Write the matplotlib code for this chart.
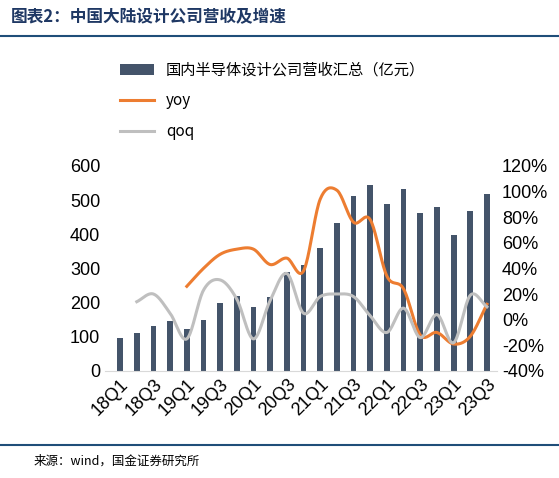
import numpy as np
import matplotlib
matplotlib.use("Agg")
import matplotlib.pyplot as plt

plt.rcParams['font.family'] = ['Noto Sans CJK SC', 'DejaVu Sans']

quarters = [f"{y}Q{q}" for y in range(18, 24) for q in range(1, 5)][:23]
revenue = [95, 110, 130, 145, 122, 148, 198, 220, 188, 215, 290, 310, 360, 432, 512, 543, 488, 532, 462, 480, 398, 468, 518]
yoy = [None]*4 + [26, 40, 51, 55, 55, 43, 48, 38, 94, 101, 76, 78, 34, 24, -12, -10, -19, -13, 12]
qoq = [None] + [14, 20, 5, -15, 23, 31, 16, -15, 15, 36, 5, 18, 20, 18, 3, -10, 9, -14, 4, -18, 19, 10]

def smooth(xs, ys, n=20):
    xs = np.asarray(xs, float); ys = np.asarray(ys, float)
    px = np.concatenate([[2*xs[0]-xs[1]], xs, [2*xs[-1]-xs[-2]]])
    py = np.concatenate([[2*ys[0]-ys[1]], ys, [2*ys[-1]-ys[-2]]])
    ox, oy = [], []
    for i in range(1, len(px)-2):
        t = np.linspace(0, 1, n, endpoint=False)
        for arr, out in ((px, ox), (py, oy)):
            p0, p1, p2, p3 = arr[i-1], arr[i], arr[i+1], arr[i+2]
            out.extend(0.5*((2*p1) + (-p0+p2)*t + (2*p0-5*p1+4*p2-p3)*t**2 + (-p0+3*p1-3*p2+p3)*t**3))
    ox.append(xs[-1]); oy.append(ys[-1])
    return np.array(ox), np.array(oy)

num_font = ['Liberation Sans', 'DejaVu Sans']

fig = plt.figure(figsize=(5.59, 4.78), dpi=100)
ax = fig.add_axes([0.188, 0.224, 0.701, 0.429])
x = np.arange(len(quarters))
bars = ax.bar(x, revenue, width=0.35, color='#44546A')
ax.set_ylim(0, 600)
ax.set_yticks(range(0, 601, 100))
ax.set_yticklabels([str(v) for v in range(0, 601, 100)], family=num_font, fontsize=13)
ax.set_xlim(-0.9, len(quarters)-0.4)
ax.set_xticks(x[::2])
ax.set_xticklabels(quarters[::2], rotation=45, ha='right', rotation_mode='anchor', fontsize=13, family=num_font)
ax.tick_params(axis='y', length=0)
ax.tick_params(axis='x', length=0)
for s in ['top', 'right', 'left']:
    ax.spines[s].set_visible(False)
ax.spines['bottom'].set_color('#D9D9D9')

ax2 = ax.twinx()
xi = [i for i, v in enumerate(yoy) if v is not None]
sx, sy = smooth(xi, [yoy[i] for i in xi])
l1, = ax2.plot(sx, sy, color='#ED7D31', lw=2.2)
xi = [i for i, v in enumerate(qoq) if v is not None]
sx, sy = smooth(xi, [qoq[i] for i in xi])
l2, = ax2.plot(sx, sy, color='#BFBFBF', lw=2.2)
ax2.set_ylim(-40, 120)
ax2.set_yticks(range(-40, 121, 20))
ax2.set_yticklabels([f"{v}%" for v in range(-40, 121, 20)], family=num_font, fontsize=13)
ax2.tick_params(axis='y', length=0)
for s in ['top', 'right', 'left', 'bottom']:
    ax2.spines[s].set_visible(False)

fig.legend([bars, l1, l2], ['国内半导体设计公司营收汇总（亿元）', 'yoy', 'qoq'],
           loc='upper left', bbox_to_anchor=(0.19, 0.9), frameon=False, fontsize=11,
           labelspacing=0.9, handlelength=2.2)

fig.text(0.02, 0.965, '图表2：中国大陆设计公司营收及增速', fontsize=12, fontweight='bold',
         style='italic', color='#1F3864', va='center')
fig.add_artist(plt.Line2D([0.0, 1.0], [0.925, 0.925], color='#1F4E79', lw=1.5))
fig.add_artist(plt.Line2D([0.0, 1.0], [0.07, 0.07], color='#1F4E79', lw=1.5))
fig.text(0.06, 0.035, '来源：wind，国金证券研究所', fontsize=9, va='center')

fig.savefig('out.png', dpi=100)
